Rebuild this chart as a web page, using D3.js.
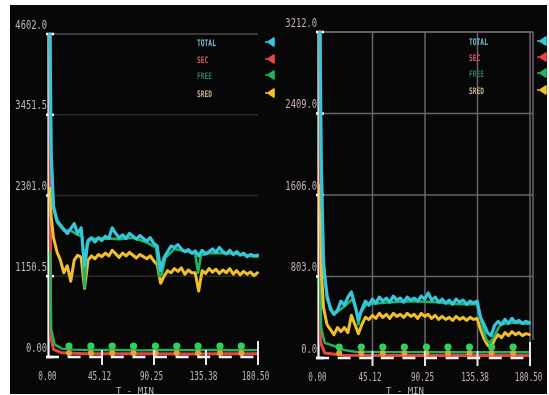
<!DOCTYPE html>
<html>
<head>
<meta charset="utf-8">
<script src="https://cdn.jsdelivr.net/npm/d3@7"></script>
<style>
html, body { margin: 0; padding: 0; background: #fff; overflow: hidden; }
svg { display: block; filter: blur(0.55px); }
</style>
</head>
<body>
<div id="chart"></div>
<script>
// values (time in minutes)
const seriesNames = ['TOTAL', 'SEC', 'FREE', 'SRED'];
const xTicks = [0, 45.12, 90.25, 135.38, 180.5];
const xTickLabels = ['0.00', '45.12', '90.25', '135.38', '180.50'];
const xTitle = 'T - MIN';

const leftYTicks = [0, 1150.5, 2301.0, 3451.5, 4602.0];
const leftYLabels = ['0.00', '1150.5', '2301.0', '3451.5', '4602.0'];
const rightYTicks = [0, 803.0, 1606.0, 2409.0, 3212.0];
const rightYLabels = ['0.0', '803.0', '1606.0', '2409.0', '3212.0'];

const sampleTimes = [0, 1, 3, 6, 9, 12, 15, 18, 21, 24, 27, 30, 33, 36, 39, 42, 45, 48, 51, 54, 57, 60,
    63, 66, 69, 72, 75, 78, 81, 84, 87, 90, 93, 96, 99, 102, 105, 108, 111, 114, 117, 120, 123, 126,
    129, 132, 135, 138, 141, 144, 147, 150, 153, 156, 159, 162, 165, 168, 171, 174, 177, 180];

// left panel
const leftTotal = [4602, 2900, 2150, 1950, 1880, 1820, 1760, 1830, 1900, 1760, 1840,
    1300, 1660, 1700, 1640, 1700, 1660, 1720, 1690, 1840, 1760, 1700, 1740, 1690, 1760, 1720, 1680, 1730, 1690, 1650, 1700, 1620, 1580,
    1230, 1420, 1500, 1580, 1560, 1600, 1540, 1500, 1530, 1480, 1510, 1440, 1520, 1470, 1500, 1540, 1490, 1560, 1500, 1470, 1520, 1460, 1500, 1450, 1480, 1430, 1460, 1440, 1450];
const leftSred = [2400, 2000, 1700, 1500, 1380, 1200, 1300, 1080, 1380, 1450, 1420,
    980, 1380, 1440, 1400, 1460, 1430, 1480, 1440, 1520, 1470, 1420, 1480, 1440, 1490, 1450, 1410, 1460, 1430, 1400, 1440, 1370, 1320,
    1050, 1150, 1230, 1200, 1260, 1220, 1270, 1180, 1240, 1200, 1200, 940, 1230, 1190, 1260, 1210, 1250, 1190, 1240, 1200, 1260, 1180, 1230, 1170, 1220, 1180, 1210, 1160, 1200];
const leftFreeHiTimes = [0, 1, 3, 6, 12, 18, 24, 28, 30, 32, 36, 48, 60, 72, 84, 92, 95, 97, 100, 108, 120, 126, 128.5, 131, 138, 150, 162, 174, 180];
const leftFreeHi = [4602, 2850, 2120, 1920, 1800, 1800, 1740, 1720, 990, 1620, 1680, 1690, 1680, 1700, 1630, 1560, 1150, 1180, 1410, 1540, 1500, 1470, 1200, 1450, 1480, 1480, 1470, 1440, 1430];
const leftFreeLoTimes = [0, 1, 4, 10, 20, 40, 60, 80, 100, 120, 140, 160, 180];
const leftFreeLo = [1500, 400, 180, 120, 105, 100, 100, 95, 100, 98, 100, 96, 98];
const leftSecTimes = [0, 0.6, 3, 10, 30, 60, 90, 120, 150, 180];
const leftSec = [4602, 300, 110, 60, 45, 45, 48, 44, 46, 45];
const leftFreeMarks = [157, 157, 157, 157, 157, 157, 157, 157, 157];
const leftSredMarks = [57, 57, 57, 57, 57, 57, 57, 57, 57];

// right panel
const rightTotal = [3212, 2000, 900, 620, 480, 430, 470, 560, 520, 600, 650,
    520, 380, 480, 560, 520, 580, 540, 600, 560, 590, 550, 610, 570, 590, 550, 600, 570, 590, 560, 610, 580, 640,
    570, 600, 550, 580, 540, 570, 530, 580, 550, 570, 530, 560, 540, 560, 400, 330, 250, 220, 320, 360, 330, 380, 340, 390, 350, 370, 340, 360, 350];
const rightSred = [1700, 900, 500, 330, 280, 230, 300, 260, 300, 250, 420,
    330, 240, 330, 400, 380, 420, 390, 440, 400, 430, 390, 440, 410, 430, 400, 440, 410, 430, 390, 440, 410, 430,
    390, 420, 380, 410, 380, 400, 370, 410, 380, 400, 370, 400, 380, 390, 280, 190, 130, 100, 180, 230, 200, 250, 220, 260, 230, 250, 220, 240, 230];
const rightFreeHiTimes = [0, 1, 3, 6, 12, 20, 28, 31, 33, 35, 40, 60, 80, 100, 120, 135, 139, 143, 146, 149, 155, 165, 180];
const rightFreeHi = [3212, 1800, 1000, 580, 430, 500, 580, 480, 330, 450, 530, 550, 560, 550, 530, 530, 340, 180, 150, 200, 330, 350, 335];
const rightFreeLoTimes = [0, 1, 4, 12, 20, 30, 60, 90, 120, 150, 180];
const rightFreeLo = [800, 300, 150, 120, 80, 62, 58, 58, 57, 56, 57];
const rightSecTimes = [0, 0.6, 4, 20, 60, 100, 140, 180];
const rightSec = [3212, 150, 50, 28, 25, 25, 25, 25];
const rightFreeMarks = [108, 108, 108, 108, 108, 108, 108, 108, 108];
const rightSredMarks = [49, 49, 49, 49, 49, 49, 49, 49, 49];

const markTimes = [16.5, 35.5, 54, 72.5, 91.5, 110, 128.5, 147.5, 166];

const COLORS = { total: '#35c6de', sec: '#e8453c', free: '#22b35e', sred: '#f2bf2c' };
const legendColors = ['#72c0cc', '#d05a66', '#2f7a5a', '#c8ae88'];
const markColors = [COLORS.total, COLORS.sec, COLORS.free, COLORS.sred];

const W = 549, H = 395;
const svg = d3.select('#chart').append('svg').attr('width', W).attr('height', H);
svg.append('clipPath').attr('id', 'screen')
    .append('rect').attr('x', 10).attr('y', 5).attr('width', 537).attr('height', 389);
svg.append('rect').attr('x', 10).attr('y', 5).attr('width', 537).attr('height', 389).attr('fill', '#070707');
const root = svg.append('g').attr('clip-path', 'url(#screen)');

const zip = (ts, vs) => ts.map((t, i) => [t, vs[i]]);

const panels = [
    {
        x0: 50, x1: 258, yTop: 34, yBot: 357, yMax: 4602, gridRight: 258,
        yTicks: leftYTicks, yLabels: leftYLabels, vgrid: false,
        gridColor: '#2a2a2a', gridTopColor: '#4c4c4c', labelColor: '#bdb9bd',
        legendX: 197, legendY: [46, 63, 79, 97], markX: 268, titleX: 135,
        total: zip(sampleTimes, leftTotal), sred: zip(sampleTimes, leftSred),
        freeHi: zip(leftFreeHiTimes, leftFreeHi), freeLo: zip(leftFreeLoTimes, leftFreeLo),
        sec: zip(leftSecTimes, leftSec),
        freeMarks: zip(markTimes, leftFreeMarks), sredMarks: zip(markTimes, leftSredMarks)
    },
    {
        x0: 320, x1: 530, yTop: 32, yBot: 358, yMax: 3212, gridRight: 533,
        yTicks: rightYTicks, yLabels: rightYLabels, vgrid: true,
        gridColor: '#6c6270', gridTopColor: '#857888', labelColor: '#c6aebd',
        legendX: 469, legendY: [45, 61, 77, 94], markX: 540, titleX: 405,
        total: zip(sampleTimes, rightTotal), sred: zip(sampleTimes, rightSred),
        freeHi: zip(rightFreeHiTimes, rightFreeHi), freeLo: zip(rightFreeLoTimes, rightFreeLo),
        sec: zip(rightSecTimes, rightSec),
        freeMarks: zip(markTimes, rightFreeMarks), sredMarks: zip(markTimes, rightSredMarks)
    }
];

// narrow the mono glyphs horizontally, like the recorder's tall thin digits
function squeeze(sel, k) {
    sel.each(function () {
        const t = d3.select(this);
        const tx = +t.attr('x') || 0, ty = +t.attr('y') || 0;
        t.attr('x', 0).attr('y', 0).attr('transform', `translate(${tx},${ty}) scale(${k},1)`);
    });
}

function drawPanel(p, pi) {
    const x = d3.scaleLinear().domain([0, 180.5]).range([p.x0, p.x1]);
    const y = d3.scaleLinear().domain([0, p.yMax]).range([p.yBot, p.yTop]);
    const g = root.append('g');

    // grid
    g.selectAll('line.hg').data(p.yTicks.slice(1)).join('line')
        .attr('class', 'hg')
        .attr('x1', p.x0).attr('x2', p.gridRight)
        .attr('y1', d => y(d)).attr('y2', d => y(d))
        .attr('stroke', d => d === p.yMax ? p.gridTopColor : p.gridColor)
        .attr('stroke-width', 1.5);
    if (p.vgrid) {
        g.selectAll('line.vg').data(xTicks.slice(1)).join('line')
            .attr('class', 'vg')
            .attr('x1', d => x(d)).attr('x2', d => x(d))
            .attr('y1', p.yTop).attr('y2', p.yBot)
            .attr('stroke', p.gridColor).attr('stroke-width', 1.5);
        g.append('line').attr('x1', p.gridRight).attr('x2', p.gridRight)
            .attr('y1', p.yTop).attr('y2', p.yBot - 18)
            .attr('stroke', p.gridColor).attr('stroke-width', 1.5);
    }

    // white y axis line
    g.append('line').attr('x1', p.x0 - 1.5).attr('x2', p.x0 - 1.5)
        .attr('y1', p.yTop).attr('y2', p.yBot)
        .attr('stroke', '#f2f2f2').attr('stroke-width', 2.2);

    // y labels through axis
    const ya = g.append('g').attr('transform', `translate(${p.x0 - 1},0)`)
        .call(d3.axisLeft(y).tickValues(p.yTicks).tickFormat((d, i) => p.yLabels[i]).tickSize(0).tickPadding(2));
    ya.select('.domain').remove();
    ya.selectAll('text')
        .attr('dy', -6)
        .attr('fill', p.labelColor)
        .style('font-family', '"DejaVu Sans Mono", monospace')
        .style('font-size', '12px');
    squeeze(ya.selectAll('text'), 0.73);

    // tick stubs on the y axis
    g.selectAll('line.ys').data(p.yTicks).join('line')
        .attr('class', 'ys')
        .attr('x1', p.x0 - 4).attr('x2', p.x0 + 4)
        .attr('y1', d => y(d)).attr('y2', d => y(d))
        .attr('stroke', '#ffffff').attr('stroke-width', 2.5);

    // x labels through axis
    const xa = g.append('g').attr('transform', `translate(0,${p.yBot})`)
        .call(d3.axisBottom(x).tickValues(xTicks).tickFormat((d, i) => xTickLabels[i]).tickSize(0));
    xa.select('.domain').remove();
    xa.selectAll('text')
        .attr('y', 0).attr('dy', 23).attr('x', -3)
        .attr('fill', p.labelColor)
        .style('font-family', '"DejaVu Sans Mono", monospace')
        .style('font-size', '12px');
    if (pi === 1) {
        // last label sits against the right edge of the screen
        xa.selectAll('text').filter((d, i) => i === xTicks.length - 1)
            .attr('text-anchor', 'end').attr('x', 542 - x(xTicks[xTicks.length - 1]));
    }
    squeeze(xa.selectAll('text'), 0.64);

    // series lines
    const line = d3.line().x(d => x(d[0])).y(d => y(d[1]));
    const drawLine = (data, color, w) => g.append('path').datum(data)
        .attr('d', line).attr('fill', 'none')
        .attr('stroke', color).attr('stroke-width', w)
        .attr('stroke-linejoin', 'round').attr('stroke-linecap', 'round');

    drawLine(p.sec, COLORS.sec, 3);
    drawLine(p.freeLo, COLORS.free, 2.4);
    drawLine(p.sred, COLORS.sred, 3);
    drawLine(p.freeHi, COLORS.free, 2.6);
    drawLine(p.total, COLORS.total, 3.2);

    // dot markers along the bottom traces
    g.selectAll('circle.sm').data(p.sredMarks).join('circle')
        .attr('class', 'sm')
        .attr('cx', d => x(d[0])).attr('cy', d => y(d[1]))
        .attr('r', 3).attr('fill', '#e0a23a');
    g.selectAll('circle.fm').data(p.freeMarks).join('circle')
        .attr('class', 'fm')
        .attr('cx', d => x(d[0])).attr('cy', d => y(d[1]))
        .attr('r', 3.6).attr('fill', '#2fd05c');

    // dashed base line and x tick marks
    g.append('line').attr('x1', p.x0 - 4).attr('x2', p.x1)
        .attr('y1', p.yBot).attr('y2', p.yBot)
        .attr('stroke', '#f4f4f4').attr('stroke-width', 2.6)
        .attr('stroke-dasharray', '13,8.6');
    g.selectAll('line.xt').data(xTicks.slice(1)).join('line')
        .attr('class', 'xt')
        .attr('x1', d => x(d)).attr('x2', d => x(d))
        .attr('y1', (d, i) => i === 3 ? p.yBot - 16 : p.yBot - 7).attr('y2', p.yBot + 8)
        .attr('stroke', '#e8e8e8').attr('stroke-width', 2);

    // legend
    seriesNames.forEach((name, i) => {
        const t = g.append('text')
            .attr('x', p.legendX).attr('y', p.legendY[i])
            .attr('fill', legendColors[i])
            .style('font-family', '"DejaVu Sans Mono", monospace')
            .style('font-size', '9px').style('font-weight', 'bold')
            .text(name);
        squeeze(t, 0.7);
        const mx = p.markX, my = p.legendY[i] - 4;
        g.append('path')
            .attr('d', `M${mx},${my} L${mx + 6},${my - 4} L${mx + 6},${my + 4} Z M${mx - 3},${my} L${mx},${my}`)
            .attr('fill', markColors[i]).attr('stroke', markColors[i]).attr('stroke-width', 1.6)
            .attr('stroke-linejoin', 'round');
    });

    // axis title
    g.append('text')
        .attr('x', p.titleX).attr('y', 393.5)
        .attr('text-anchor', 'middle')
        .attr('fill', p.labelColor)
        .style('font-family', '"DejaVu Sans Mono", monospace')
        .style('font-size', '9px')
        .text(xTitle);
}

panels.forEach(drawPanel);
</script>
</body>
</html>
